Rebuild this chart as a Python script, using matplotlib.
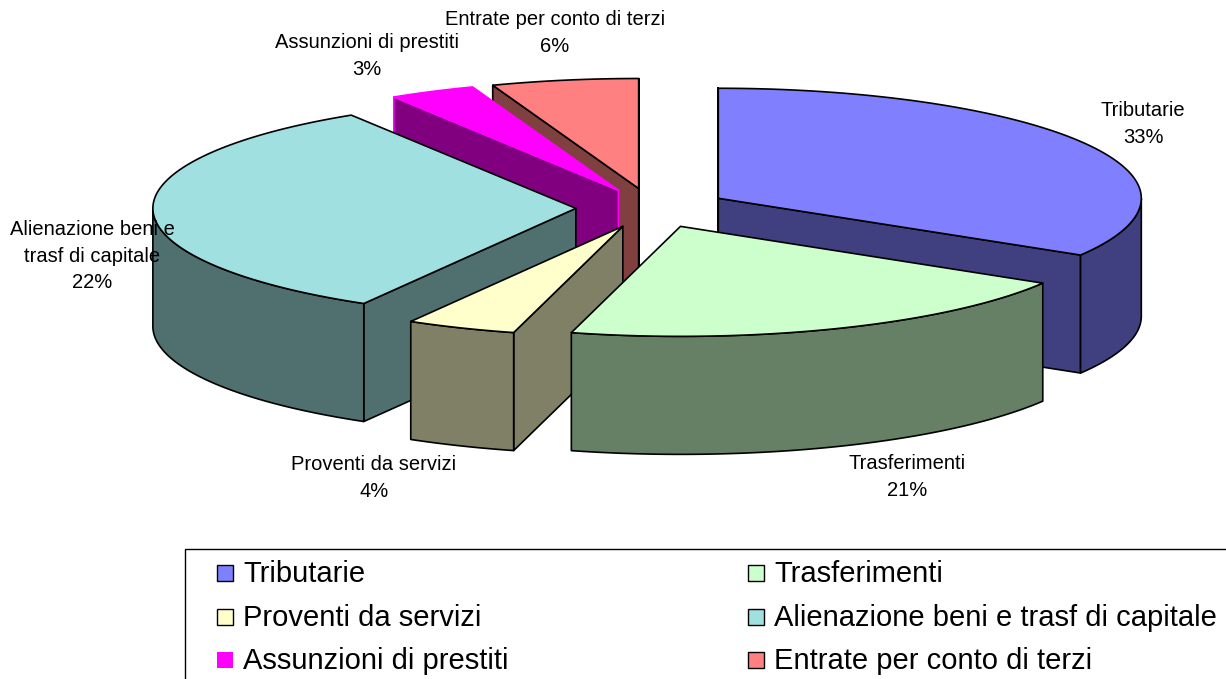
import numpy as np
import matplotlib
matplotlib.use('Agg')
import matplotlib.pyplot as plt
from matplotlib.patches import Rectangle

plt.rcParams['font.family'] = ['Liberation Sans', 'DejaVu Sans']

categories = ['Tributarie', 'Trasferimenti', 'Proventi da servizi',
              'Alienazione beni e trasf di capitale', 'Assunzioni di prestiti',
              'Entrate per conto di terzi']
# shares as drawn (the 22% label sits on a slice about a third of the pie)
shares = [33.6, 20.5, 4.2, 32.7, 3.3, 5.6]
pct_labels = ['33%', '21%', '4%', '22%', '3%', '6%']
label_text = ['Tributarie', 'Trasferimenti', 'Proventi da servizi',
              'Alienazione beni e\ntrasf di capitale', 'Assunzioni di prestiti',
              'Entrate per conto di terzi']
label_xy = [(1143, 124), (907, 477), (374, 478), (92, 256), (367, 56), (555, 33)]
top_colors = ['#8080FF', '#CCFFCC', '#FFFFCC', '#A0E0E0', '#FF00FF', '#FF8080']
side_colors = ['#404080', '#668066', '#808066', '#507070', '#800080', '#804040']
edge_colors = ['black', 'black', 'black', 'black', '#FF00FF', 'black']
draw_order = [5, 4, 0, 3, 2, 1]

# pie geometry in pixels
cx, cy = 652, 208
rx, ry = 423, 110
depth = 118
explode = 0.18


def point(a, ox, oy, r=1.0):
    return ox + r * rx * np.sin(a), oy - r * ry * np.cos(a)


def draw_slice(ax, a1, a2, top, side, edge):
    mid = (a1 + a2) / 2
    ox, oy = point(mid, cx, cy, explode)
    lw = 1.2
    p1 = point(a1, ox, oy)
    p2 = point(a2, ox, oy)
    # cut faces that look towards the viewer
    if np.sin(a1) < 1e-6:
        ax.fill([ox, p1[0], p1[0], ox], [oy, p1[1], p1[1] + depth, oy + depth],
                facecolor=side, edgecolor=edge, lw=lw, joinstyle='round')
    if np.sin(a2) > -1e-6:
        ax.fill([ox, p2[0], p2[0], ox], [oy, p2[1], p2[1] + depth, oy + depth],
                facecolor=side, edgecolor=edge, lw=lw, joinstyle='round')
    # outer wall, only the front half of the rim
    f1, f2 = max(a1, np.pi / 2), min(a2, 3 * np.pi / 2)
    if f2 > f1:
        t = np.linspace(f1, f2, 80)
        xs, ys = point(t, ox, oy)
        ax.fill(np.r_[xs, xs[::-1]], np.r_[ys, ys[::-1] + depth],
                facecolor=side, edgecolor=edge, lw=lw, joinstyle='round')
    t = np.linspace(a1, a2, 120)
    xs, ys = point(t, ox, oy)
    ax.fill(np.r_[ox, xs], np.r_[oy, ys], facecolor=top, edgecolor=edge, lw=lw,
            joinstyle='round')


def main():
    fig = plt.figure(figsize=(12.26, 6.79), dpi=100)
    ax = fig.add_axes([0, 0, 1, 1])
    ax.set_xlim(0, 1226)
    ax.set_ylim(679, 0)
    ax.axis('off')

    edges = np.r_[0, np.cumsum(shares)] / np.sum(shares) * 2 * np.pi
    for i in draw_order:
        draw_slice(ax, edges[i], edges[i + 1], top_colors[i], side_colors[i], edge_colors[i])

    for i in range(len(categories)):
        ax.text(label_xy[i][0], label_xy[i][1], label_text[i] + '\n' + pct_labels[i],
                ha='center', va='center', fontsize=14.5, color='black', linespacing=1.47)

    # legend box runs off the right and bottom of the image
    ax.add_patch(Rectangle((184.5, 548.5), 1100, 200, facecolor='white', edgecolor='black', lw=1))
    leg_x = [217, 748]
    leg_y = [573, 617, 660]
    for i, name in enumerate(categories):
        x = leg_x[i % 2]
        y = leg_y[i // 2]
        edge = 'none' if top_colors[i] == '#FF00FF' else 'black'
        ax.add_patch(Rectangle((x, y - 8), 16, 16, facecolor=top_colors[i], edgecolor=edge, lw=1))
        ax.text(x + 26, y + 1, name, ha='left', va='center', fontsize=21, color='black')

    fig.savefig('out.png', dpi=100)


if __name__ == '__main__':
    main()
